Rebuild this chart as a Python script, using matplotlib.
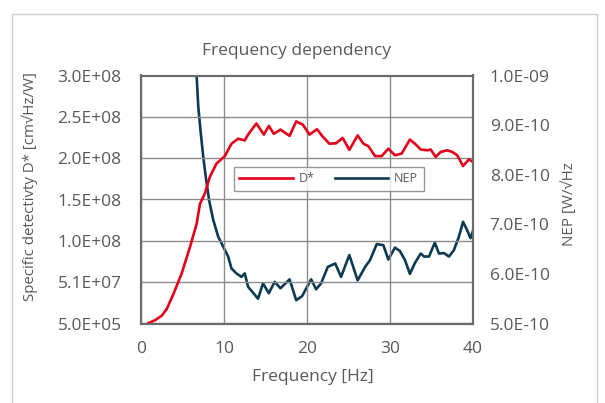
import numpy as np
import matplotlib
matplotlib.use("Agg")
import matplotlib.pyplot as plt
from matplotlib.patches import Rectangle

plt.rcParams['font.family'] = ['Open Sans', 'DejaVu Sans']

# D* (left axis)
f_d = [0.9, 1.7, 2.5, 3.1, 3.9, 4.9, 5.9, 6.7, 7.1, 7.7, 8.3, 9.1, 10.1, 10.9, 11.7,
       12.5, 12.9, 13.9, 14.8, 15.4, 16.0, 16.8, 17.9, 18.7, 19.5, 20.3, 21.2,
       21.9, 22.7, 23.5, 24.3, 25.1, 26.1, 26.8, 27.4, 28.2, 29.0, 29.8,
       30.6, 31.4, 32.4, 33.0, 33.7, 34.5, 34.9, 35.5, 36.1, 36.9, 37.5, 38.1, 38.8,
       39.5, 40.0]
d_star = [1.0e6, 4.5e6, 1.0e7, 1.8e7, 3.6e7, 6.1e7, 9.3e7, 1.21e8, 1.45e8, 1.58e8,
          1.78e8, 1.94e8, 2.03e8, 2.18e8, 2.24e8, 2.22e8, 2.29e8, 2.425e8, 2.29e8,
          2.395e8, 2.30e8, 2.35e8, 2.275e8, 2.45e8, 2.41e8, 2.29e8, 2.355e8,
          2.265e8, 2.18e8, 2.185e8, 2.25e8, 2.105e8, 2.28e8, 2.18e8,
          2.15e8, 2.03e8, 2.03e8, 2.12e8, 2.04e8, 2.06e8, 2.23e8, 2.18e8, 2.11e8,
          2.10e8, 2.11e8, 2.02e8, 2.08e8, 2.10e8, 2.08e8, 2.04e8, 1.91e8, 1.99e8,
          1.96e8]

# NEP (right axis)
f_n = [6.0, 6.7, 6.9, 7.2, 7.5, 7.8, 8.2, 8.7, 9.3, 9.9, 10.5, 10.9, 11.5, 12.1, 12.5,
       12.9, 14.1, 14.7, 15.4, 16.1, 16.8, 17.9, 18.7, 19.4, 20.5, 21.1, 21.7,
       22.5, 23.4, 24.1, 25.1, 26.1, 27.0, 27.6, 28.4, 29.2, 29.8,
       30.6, 31.2, 31.8, 32.4, 33.0, 33.7, 34.1, 34.7, 35.4, 35.9, 36.5, 37.1, 37.7,
       38.3, 38.8, 39.3, 39.7, 40.0]
nep = [1.3e-9, 1.0e-9, 9.37e-10, 8.84e-10, 8.36e-10, 7.96e-10, 7.49e-10, 7.09e-10,
       6.75e-10, 6.55e-10, 6.35e-10, 6.11e-10, 6.01e-10, 5.94e-10, 6.01e-10, 5.74e-10,
       5.50e-10, 5.81e-10, 5.61e-10, 5.84e-10, 5.71e-10, 5.89e-10, 5.47e-10, 5.55e-10,
       5.89e-10, 5.69e-10, 5.81e-10, 6.14e-10, 6.21e-10, 5.94e-10, 6.38e-10, 5.87e-10,
       6.14e-10, 6.28e-10, 6.60e-10, 6.58e-10,
       6.29e-10, 6.53e-10, 6.46e-10, 6.28e-10, 6.00e-10, 6.22e-10, 6.41e-10, 6.35e-10,
       6.35e-10, 6.63e-10, 6.41e-10, 6.42e-10, 6.35e-10, 6.48e-10, 6.75e-10, 7.05e-10,
       6.88e-10, 6.72e-10, 6.87e-10]

left_ticks = [5e5 + k * 5e7 for k in range(7)]
left_labels = ['5.0E+05', '5.1E+07', '1.0E+08', '1.5E+08', '2.0E+08', '2.5E+08', '3.0E+08']
right_ticks = [5e-10, 6e-10, 7e-10, 8e-10, 9e-10, 1e-9]
right_labels = ['5.0E-10', '6.0E-10', '7.0E-10', '8.0E-10', '9.0E-10', '1.0E-09']

txt = '#595959'
red = '#e2001a'
blue = '#0b3a52'
W, H = 605, 403

fig = plt.figure(figsize=(6.05, 4.03), dpi=100)
# light chart-area border (open at the bottom like the reference crop)
fig.patches.append(Rectangle((12/W, -0.1), 585/W, 1.1 - 14.5/H, transform=fig.transFigure,
                             fill=False, edgecolor='#d0d0d0', lw=1))
ax = fig.add_axes([141/W, 1 - 323.5/H, 332/W, 248/H])
ax2 = ax.twinx()

l1, = ax.plot(f_d, d_star, color=red, lw=1.9, label='D*')
l2, = ax2.plot(f_n, nep, color=blue, lw=1.9, label='NEP')

ax.set_xlim(0, 40)
ax.set_ylim(5e5, 3.005e8)
ax2.set_ylim(5e-10, 1e-9)
ax.set_xticks([0, 10, 20, 30, 40])
ax.set_yticks(left_ticks)
ax.set_yticklabels(left_labels)
ax2.set_yticks(right_ticks)
ax2.set_yticklabels(right_labels)
ax.grid(True, color='#8c8c8c', lw=1)
ax.set_axisbelow(True)

for a in (ax, ax2):
    for s in a.spines.values():
        s.set_color('#6b6b6b')
        s.set_linewidth(1.5)
    a.tick_params(length=0, labelsize=12.5, labelcolor=txt)
ax.tick_params(axis='y', pad=14)
ax.tick_params(axis='x', pad=12.5)
ax2.tick_params(axis='y', pad=12)

# titles placed where the reference has them
fig.text(296.5/W, 1 - 55/H, 'Frequency dependency', fontsize=12.5, color=txt,
         ha='center', va='baseline')
fig.text(312.5/W, 1 - 380.7/H, 'Frequency [Hz]', fontsize=12.5, color=txt,
         ha='center', va='baseline')
fig.text(29.5/W, 1 - 186.5/H, 'Specific detectivty D* [cm\u221aHz/W]', fontsize=10.8,
         color=txt, rotation=90, ha='center', va='center')
fig.text(569/W, 1 - 204.5/H, 'NEP [W/\u221aHz', fontsize=10.9, color=txt,
         rotation=90, ha='center', va='center')

leg = ax.legend([l1, l2], ['D*', 'NEP'], loc='center', bbox_to_anchor=(0.565, 0.583),
                ncol=2, frameon=True, fancybox=False, handlelength=4.3, fontsize=9,
                labelcolor=txt, borderpad=0.45, columnspacing=1.6, handletextpad=0.45)
leg.get_frame().set_edgecolor('#7f7f7f')
leg.get_frame().set_linewidth(1)
leg.set_zorder(5)
ax.set_zorder(ax2.get_zorder() + 1)
ax.patch.set_visible(False)

fig.savefig('out.png', dpi=100)
